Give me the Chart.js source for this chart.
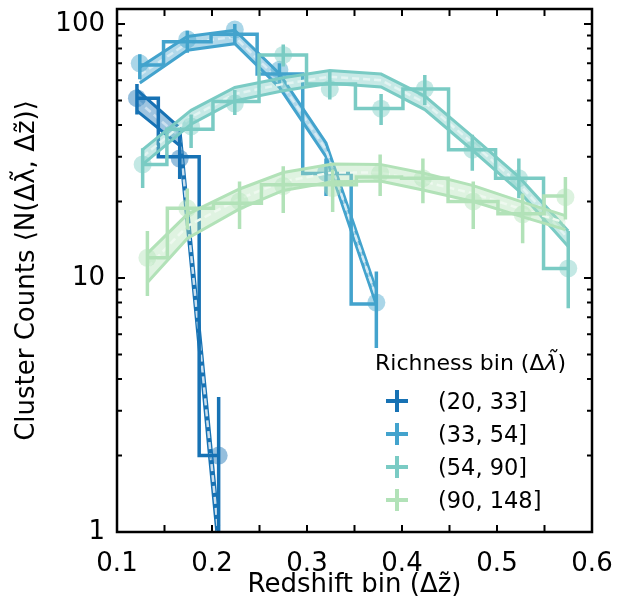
<!DOCTYPE html>
<html>
<head>
<meta charset="utf-8">
<script src="https://cdn.jsdelivr.net/npm/chart.js@4.4.1/dist/chart.umd.min.js"></script>
<style>
  html,body{margin:0;padding:0;background:#fff;}
  #wrap{position:relative;width:641px;height:610px;font-family:"DejaVu Sans",sans-serif;color:#000;}
  #legend{position:absolute;left:0;top:0;width:641px;height:610px;pointer-events:none;}
  .lg-title{position:absolute;left:375px;top:348px;font-size:22px;line-height:30px;white-space:nowrap;}
  .lg-row{position:absolute;left:386px;width:200px;height:22px;font-size:22.5px;line-height:22px;white-space:nowrap;}
  .mk{position:absolute;left:0;top:0;width:22px;height:22px;}
  .mk::before,.mk::after{content:"";position:absolute;background:currentColor;}
  .mk::before{left:0;top:9px;width:22px;height:4px;}
  .mk::after{left:9px;top:0;width:4px;height:22px;}
  .lg-lab{position:absolute;left:52px;top:0;color:#000;}
</style>
</head>
<body>
<div id="wrap">
  <canvas id="chart" width="641" height="610"></canvas>
  <div id="legend"></div>
</div>
<script>
/* ---------- data ---------- */
const COLORS = ["#1772b4", "#43a3cd", "#7acbc4", "#b2e2b8"];
const BIN_LABELS = ["(20, 33]", "(33, 54]", "(54, 90]", "(90, 148]"];

// (20, 33]
const zA       = [0.121, 0.166, 0.207];
const nA       = [51, 30, 2.0];
const errLoA   = [44, 24.5, 0.5];
const errHiA   = [58, 36.7, 3.4];
const ptA      = [51, 29.5, 2.0];
const modelA   = [50, 36, 0.95];
const modelLoA = [45.5, 33.2, 0.84];
const modelHiA = [55, 39, 1.06];

// (33, 54]
const zB       = [0.124, 0.174, 0.224, 0.271, 0.320, 0.373];
const nB       = [69, 85, 91, 63.5, 25.8, 7.9];
const errLoB   = [60.6, 77, 83, 57, 21, 5.3];
const errHiB   = [76, 94, 100, 70, 29.5, 10.6];
const ptB      = [70, 87, 95, 66, 26, 8];
const modelB   = [63, 84, 89, 60, 32, 8.4];
const modelLoB = [58.5, 78.8, 83.6, 56.3, 30, 7.85];
const modelHiB = [67.5, 89.2, 94.4, 63.7, 34, 8.95];

// (54, 90]
const zC       = [0.127, 0.178, 0.224, 0.275, 0.324, 0.378, 0.424, 0.474, 0.523, 0.575];
const nC       = [28, 38.5, 49.5, 75.5, 58, 46.5, 55.5, 32, 24.7, 10.9];
const errLoC   = [22.6, 32.5, 43.8, 68, 50.4, 40, 48, 26.4, 20.6, 7.6];
const errHiC   = [32.4, 44, 55, 83, 65, 53, 63, 36.6, 29.5, 15.3];
const ptC      = [28, 39.5, 48.6, 75.5, 55.5, 46.4, 55.5, 32, 24.7, 10.9];
const modelC   = [30, 43, 53, 58, 62, 60, 49, 34, 23.5, 14.3];
const modelLoC = [28, 40.3, 49.8, 54.6, 58.4, 56.5, 46, 31.9, 22, 13.3];
const modelHiC = [32, 45.7, 56.2, 61.4, 65.6, 63.5, 52, 36.1, 25, 15.3];

// (90, 148]
const zD       = [0.132, 0.174, 0.229, 0.275, 0.327, 0.377, 0.422, 0.475, 0.527, 0.572];
const nD       = [12, 18.8, 19.7, 23.3, 23.3, 25, 24.7, 20, 17.9, 21];
const errLoD   = [8.5, 15.5, 15.6, 18, 18.2, 21, 19.7, 15.6, 13.7, 17];
const errHiD   = [15.3, 22.5, 24, 27.5, 26.7, 30.6, 29.5, 24, 21.5, 25];
const ptD      = [12, 18.8, 20, 23, 22.6, 25.8, 24.7, 20, 17.8, 20.8];
const modelD   = [11, 16, 20.5, 24, 26, 26, 24, 21.5, 18.6, 16.5];
const modelLoD = [9.6, 14.3, 18.7, 22.1, 23.9, 24.1, 22.2, 20, 17.4, 15.5];
const modelHiD = [12.5, 17.8, 22.4, 26, 28.1, 28, 25.9, 23.1, 19.9, 17.6];

const Y_TICKS = [1, 10, 100];

const SERIES = [
  {z:zA, n:nA, lo:errLoA, hi:errHiA, pt:ptA, m:modelA, mLo:modelLoA, mHi:modelHiA},
  {z:zB, n:nB, lo:errLoB, hi:errHiB, pt:ptB, m:modelB, mLo:modelLoB, mHi:modelHiB},
  {z:zC, n:nC, lo:errLoC, hi:errHiC, pt:ptC, m:modelC, mLo:modelLoC, mHi:modelHiC},
  {z:zD, n:nD, lo:errLoD, hi:errHiD, pt:ptD, m:modelD, mLo:modelLoD, mHi:modelHiD},
];

/* ---------- helpers ---------- */
const rgb = h => [1,3,5].map(i => parseInt(h.slice(i,i+2),16));
const rgba = (h,a) => `rgba(${rgb(h).join(",")},${a})`;
const tint = (h,f) => `rgb(${rgb(h).map(c => Math.round(c + (255-c)*f)).join(",")})`;
const pts = (xs, ys) => xs.map((x,i) => ({x, y:ys[i]}));
const errPts = (xs, lo, hi) => {
  const out = [];
  xs.forEach((x,i) => { out.push({x, y:lo[i]}, {x, y:hi[i]}, {x, y:null}); });
  return out;
};

/* ---------- datasets ---------- */
const datasets = [];
let layer = 0;
const push = ds => { ds.order = 1000 - (layer++); datasets.push(ds); };
const lineBase = {pointRadius:0, pointHoverRadius:0, fill:false, spanGaps:false, tension:0};

SERIES.forEach((s, i) => {
  const c = COLORS[i];
  push({...lineBase, data:pts(s.z, s.mHi), borderColor:c, borderWidth:3});
  push({...lineBase, data:pts(s.z, s.mLo), borderColor:c, borderWidth:3, fill:"-1", backgroundColor:rgba(c,0.42)});
  push({...lineBase, data:pts(s.z, s.m), borderColor:tint(c,0.78), borderWidth:2.5, borderDash:[7,4]});
  push({...lineBase, data:pts(s.z, s.n), borderColor:c, borderWidth:3.5, stepped:"middle", borderJoinStyle:"miter"});
  push({...lineBase, data:errPts(s.z, s.lo, s.hi), borderColor:c, borderWidth:3.5, borderCapStyle:"butt"});
  push({data:pts(s.z, s.pt), showLine:false, pointRadius:9, pointHoverRadius:9,
        pointBackgroundColor:rgba(c,0.45), pointBorderWidth:0, borderColor:"transparent"});
});

/* ---------- frame + inward ticks ---------- */
const frame = {
  id:"frame",
  afterDatasetsDraw(chart){
    const {ctx, chartArea:a, scales:{x, y}} = chart;
    ctx.save();
    ctx.strokeStyle = "#000";
    ctx.lineWidth = 2;
    ctx.beginPath();
    x.ticks.forEach(t => {
      const px = x.getPixelForValue(t.value);
      ctx.moveTo(px, a.bottom); ctx.lineTo(px, a.bottom - 7);
      ctx.moveTo(px, a.top);    ctx.lineTo(px, a.top + 7);
    });
    y.ticks.forEach(t => {
      const e = Math.floor(Math.log10(t.value) + 1e-9);
      const m = t.value / Math.pow(10, e);
      if (Math.abs(m - Math.round(m)) > 1e-6) return;
      const len = Math.round(m) === 1 ? 8 : 5;
      const py = y.getPixelForValue(t.value);
      ctx.moveTo(a.left, py);  ctx.lineTo(a.left + len, py);
      ctx.moveTo(a.right, py); ctx.lineTo(a.right - len, py);
    });
    ctx.stroke();
    ctx.lineWidth = 2.5;
    ctx.strokeRect(a.left, a.top, a.right - a.left, a.bottom - a.top);
    ctx.restore();
  }
};

Chart.defaults.font.family = "'DejaVu Sans', sans-serif";
Chart.defaults.color = "#000";

new Chart(document.getElementById("chart"), {
  type:"line",
  data:{datasets},
  options:{
    responsive:false, animation:false, events:[],
    layout:{padding:{left:0, top:0, right:49, bottom:0}},
    plugins:{legend:{display:false}, tooltip:{enabled:false}},
    scales:{
      x:{
        type:"linear", min:0.1, max:0.6,
        grid:{display:false, drawTicks:false}, border:{display:false},
        ticks:{stepSize:0.05, autoSkip:false, maxRotation:0, padding:17, color:"#000", font:{size:26},
          callback:v => { const t = Math.round(v*100)/100; return Math.abs(t*10 - Math.round(t*10)) < 1e-9 ? t.toFixed(1) : ""; }},
        title:{display:true, text:"Redshift bin (Δz̃)", color:"#000", font:{size:26}, padding:{top:0, bottom:9}},
        afterFit:s => { s.height = 78; s.paddingLeft = 0; s.paddingRight = 0; s.paddingTop = 0; s.paddingBottom = 0; },
      },
      y:{
        type:"logarithmic", min:1, max:114.5,
        grid:{display:false, drawTicks:false}, border:{display:false},
        ticks:{autoSkip:false, padding:12, color:"#000", font:{size:26},
          callback:v => Y_TICKS.some(t => Math.abs(t - v) < 1e-6) ? String(Math.round(v)) : ""},
        title:{display:true, text:"Cluster Counts ⟨N(Δλ̃, Δz̃)⟩", color:"#000", font:{size:26}, padding:{top:12, bottom:0}},
        afterFit:s => { s.width = 117; s.paddingTop = 0; s.paddingBottom = 0; s.paddingLeft = 0; s.paddingRight = 0; },
      },
    },
  },
  plugins:[frame],
});

/* ---------- legend ---------- */
const lg = document.getElementById("legend");
let html = `<div class="lg-title">Richness bin (Δ<i>λ̃</i>)</div>`;
BIN_LABELS.forEach((lab, i) => {
  html += `<div class="lg-row" style="top:${390 + i*33}px"><span class="mk" style="color:${COLORS[i]}"></span><span class="lg-lab">${lab}</span></div>`;
});
lg.innerHTML = html;
</script>
</body>
</html>
